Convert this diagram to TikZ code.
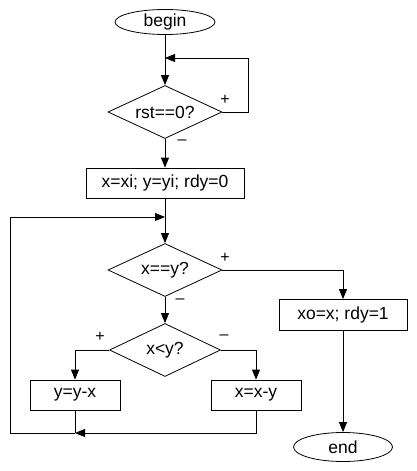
\documentclass[tikz,border=0pt]{standalone}
\usepackage{fontspec}
\setmainfont{Liberation Sans}
\usetikzlibrary{arrows.meta,shapes.geometric}

\begin{document}
\begin{tikzpicture}[x=1pt,y=-1pt,
    font=\fontsize{17.5}{20}\selectfont,
    line/.style={line width=0.8pt},
    flow/.style={line, -{Triangle[length=10pt,width=8pt]}},
    terminal/.style={draw, line, ellipse, inner sep=0pt},
    action/.style={draw, line, rectangle, inner sep=0pt, minimum height=30pt},
    test/.style={draw, line, diamond, aspect=2.15, inner sep=0pt,
      minimum width=114pt, minimum height=53pt},
    sign/.style={font=\fontsize{16}{18}\selectfont, inner sep=0pt}
  ]
  \useasboundingbox (0,0) rectangle (416,471);

  \node[terminal, minimum width=100pt, minimum height=25pt] (begin) at (165,22) {begin};
  \node[test] (rst) at (165,112) {rst==0?};
  \node[action, minimum width=158pt] (init) at (165,183) {x=xi; y=yi; rdy=0};
  \node[test] (eq) at (165,270) {x==y?};
  \node[test, minimum width=111pt] (lt) at (165,350) {x<y?};
  \node[action, minimum width=90pt] (suby) at (75,395) {y=y-x};
  \node[action, minimum width=90pt] (subx) at (256,395) {x=x-y};
  \node[action, minimum width=128pt, minimum height=31pt] (done) at (343,315) {xo=x; rdy=1};
  \node[terminal, minimum width=99pt, minimum height=29pt] (end) at (343,447) {end};

  % branch signs
  \node[sign] (rstyes) at (225,100) {+};
  \node[sign] (rstno) at (182,142) {–};
  \node[sign] (eqyes) at (225,258) {+};
  \node[sign] (eqno) at (180,301) {–};
  \node[sign] (ltyes) at (100,337) {+};
  \node[sign] (ltno) at (224,337) {–};

  \coordinate (wait) at (165,58);
  \coordinate (loop) at (165,217);
  \coordinate (back) at (10,217);
  \coordinate (join) at (75,433);

  \draw[line] (begin) -- (wait);
  \draw[flow] (wait) -- (rst);
  \draw[flow] (rst.east) -- ++(26,0) |- (wait);
  \draw[flow] (rst) -- (init);
  \draw[line] (init) -- (loop);
  \draw[flow] (loop) -- (eq);
  \draw[flow] (eq.east) -| (done);
  \draw[flow] (eq) -- (lt);
  \draw[flow] (lt.west) -| (suby);
  \draw[flow] (lt.east) -| (subx);
  \draw[line] (suby) -- (join);
  \draw[flow] (subx.south) |- (join);
  \draw[flow] (join) -| (back) -- (loop);
  \draw[flow] (done) -- (end);
\end{tikzpicture}
\end{document}
